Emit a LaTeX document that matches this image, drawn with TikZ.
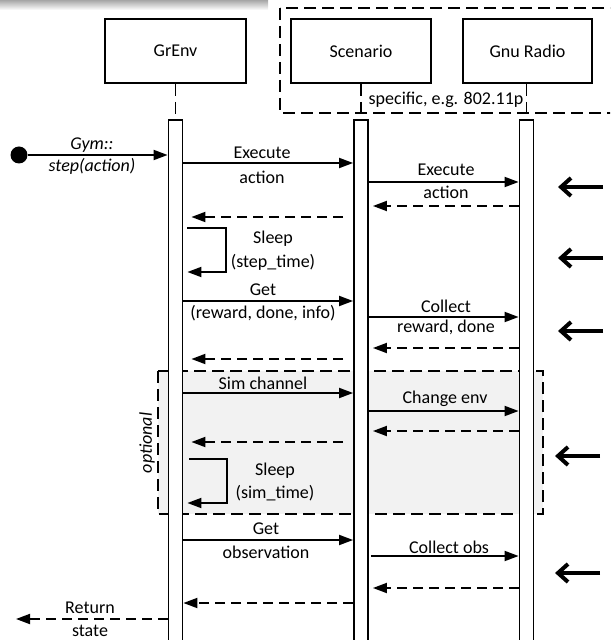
\documentclass[tikz,border=0pt]{standalone}
\usepackage{fontspec}
\setmainfont{Carlito}
\usepackage{tikz}
\usetikzlibrary{arrows.meta, positioning, calc}
\definecolor{optgray}{RGB}{242,242,242}

\begin{document}
\begin{tikzpicture}[
    x=0.5pt, y=-0.5pt,
    font=\fontsize{9}{11}\selectfont,
    line width=0.9pt,
    objbox/.style={draw, rectangle, minimum height=32pt, inner sep=0pt},
    actbar/.style={draw, fill=white, rectangle, minimum width=7pt, minimum height=265pt, inner sep=0pt, anchor=north},
    lifeline/.style={dash pattern=on 6pt off 3pt},
    msg/.style={-{Triangle[length=7pt, width=5pt]}},
    reply/.style={msg, dash pattern=on 5pt off 3pt},
    hint/.style={-{Straight Barb[length=5pt, width=9pt, line width=2pt]}, line width=2pt},
    lbl/.style={inner sep=0pt}
]
    \useasboundingbox (0,0) rectangle (610,640);
    \clip (0,0) rectangle (610,640);

    \shade[top color=gray!70, bottom color=white] (0,0) rectangle (268,10);

    % GNU Radio specific part
    \draw[lifeline] (280,8) rectangle (625,113);
    \node[lbl] (spec) at (446,100) {specific, e.g. 802.11p};

    \node[objbox, minimum width=70.5pt] (grenv) at (175.5,51) {GrEnv};
    \node[objbox, minimum width=70pt] (scen) at (361,51) {Scenario};
    \node[objbox, minimum width=64.5pt] (gnur) at (527.5,51) {Gnu Radio};

    % optional block
    \draw[lifeline, fill=optgray] (158,371) rectangle (543,514);
    \node[lbl, rotate=90, font=\fontsize{9}{11}\selectfont\itshape] (opt) at (147,443) {optional};

    \node[actbar] (grbar) at (175.5,119) {};
    \node[actbar] (scbar) at (361,119) {};
    \node[actbar] (gnbar) at (526.5,119) {};
    \draw[lifeline] (grenv.south -| grbar.north) -- (grbar.north);
    \draw[lifeline] (scen.south -| scbar.north) -- (scbar.north);
    \draw[lifeline] (gnur.south -| gnbar.north) -- (gnbar.north);

    % gym call
    \node[circle, fill, inner sep=0pt, minimum size=8.5pt] (start) at (19,155) {};
    \draw[msg] (start) -- (grbar.west |- start);
    \node[lbl, font=\fontsize{9}{11}\selectfont\itshape] at (92,145) {Gym::};
    \node[lbl, font=\fontsize{9}{11}\selectfont\itshape] at (92,166) {step(action)};

    % requests
    \draw[msg] (grbar.east |- 0,163) -- (scbar.west |- 0,163);
    \node[lbl] at (262,153) {Execute};
    \node[lbl] at (262,177) {action};
    \draw[msg] (scbar.east |- 0,182) -- (gnbar.west |- 0,182);
    \node[lbl] at (446,170) {Execute};
    \node[lbl] at (446,192) {action};

    \draw[msg] (grbar.east |- 0,301) -- (scbar.west |- 0,301);
    \node[lbl] at (263,290) {Get};
    \node[lbl] at (263,313) {(reward, done, info)};
    \draw[msg] (scbar.east |- 0,317) -- (gnbar.west |- 0,317);
    \node[lbl] at (446,306) {Collect};
    \node[lbl] at (446,327) {reward, done};

    \draw[msg] (grbar.east |- 0,393) -- (scbar.west |- 0,393);
    \node[lbl] at (263,383) {Sim channel};
    \draw[msg] (scbar.east |- 0,411) -- (gnbar.west |- 0,411);
    \node[lbl] at (445,399) {Change env};

    \draw[msg] (grbar.east |- 0,540) -- (scbar.west |- 0,540);
    \node[lbl] at (266,529) {Get};
    \node[lbl] at (266,552) {observation};
    \draw[msg, shorten <=1pt] (scbar.east |- 0,556) -- (gnbar.west |- 0,556);
    \node[lbl] at (449,547) {Collect obs};

    % replies
    \foreach \y in {206,348,431,588}
        \draw[reply, shorten >=2pt] (gnbar.west |- 0,\y) -- (scbar.east |- 0,\y);
    \foreach \y in {217,359,442}
        \draw[reply, shorten <=5pt, shorten >=4pt] (scbar.west |- 0,\y) -- (grbar.east |- 0,\y);
    \draw[reply] (scbar.west |- 0,603) -- (grbar.east |- 0,603);

    % sleeps
    \draw[msg] ([xshift=2pt]grbar.east |- 0,228) -- (226,228) |- ([xshift=2pt]grbar.east |- 0,272);
    \node[lbl] at (273,239) {Sleep};
    \node[lbl] at (273,262) {(step\_time)};
    \draw[msg] ([xshift=3pt]grbar.east |- 0,459) -- (227,459) |- ([xshift=2pt]grbar.east |- 0,503);
    \node[lbl] at (275,471) {Sleep};
    \node[lbl] at (275,493) {(sim\_time)};

    % return
    \coordinate (ret) at (16,619);
    \draw[reply] (grbar.west |- ret) -- (ret);
    \node[lbl] at (90,608) {Return};
    \node[lbl] at (90,631) {state};

    % markers on the right
    \foreach \y/\x in {187/603, 258/603, 331/603, 456/600, 573/600}
        \draw[hint] (\x,\y) -- ++(-45,0);
\end{tikzpicture}
\end{document}
